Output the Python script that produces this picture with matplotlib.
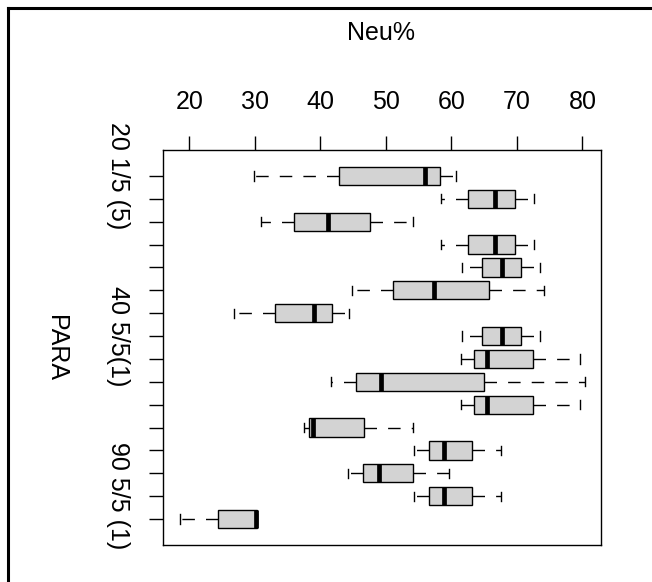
import matplotlib

matplotlib.use("Agg")
import matplotlib.pyplot as plt
import numpy as np
from matplotlib.lines import Line2D

plt.rcParams["font.family"] = ["Liberation Sans", "DejaVu Sans"]

# --- Values (16 groups, top to bottom) --------------------------------------
Q1 = [42.9, 62.5, 36.0, 62.5, 64.7, 51.1, 33.0, 64.7, 63.5, 45.5, 63.5, 38.3, 56.6, 46.5, 56.6, 24.3]
MEDIAN = [55.9, 66.6, 41.1, 66.6, 67.7, 57.3, 39.1, 67.7, 65.4, 49.2, 65.4, 38.9, 58.9, 48.9, 58.9, 30.2]
Q3 = [58.3, 69.7, 47.6, 69.7, 70.6, 65.8, 41.7, 70.6, 72.5, 64.9, 72.5, 46.6, 63.2, 54.2, 63.2, 30.3]
WHIS_LO = [29.8, 58.4, 30.9, 58.4, 61.6, 44.9, 26.8, 61.6, 61.4, 41.6, 61.4, 37.5, 54.3, 44.2, 54.3, 18.5]
WHIS_HI = [60.7, 72.6, 54.1, 72.6, 73.5, 74.1, 44.3, 73.5, 79.6, 80.35, 79.6, 54.2, 67.5, 59.6, 67.5, 30.3]
GROUP_LABELS = ["20 1/5 (5)", "", "", "", "", "", "", "40 5/5(1)",
                "", "", "", "", "", "", "90 5/5 (1)", ""]
X_TICKS = [20, 30, 40, 50, 60, 70, 80]
X_LABEL = "Neu%"
Y_LABEL = "PARA"

FILL = "#d3d3d3"
INK = "#000000"

fig = plt.figure(figsize=(6.52, 5.82), dpi=100)
W, H = 652.0, 582.0
ax = fig.add_axes([163.3 / W, 1 - 545 / H, (601 - 163.3) / W, (545 - 150) / H])

n = len(MEDIAN)
stats = [
    dict(med=m, q1=a, q3=b, whislo=lo, whishi=hi, fliers=[])
    for m, a, b, lo, hi in zip(MEDIAN, Q1, Q3, WHIS_LO, WHIS_HI)
]
pos = np.arange(1, n + 1)
ax.bxp(
    stats, positions=pos, widths=0.8, capwidths=0.4, orientation="horizontal",
    patch_artist=True, showfliers=False,
    boxprops=dict(facecolor=FILL, edgecolor=INK, linewidth=1.0),
    medianprops=dict(color=INK, linewidth=3.4, solid_capstyle="butt"),
    whiskerprops=dict(color=INK, linewidth=1.0, linestyle=(0, (9, 8))),
    capprops=dict(color=INK, linewidth=1.0),
)

# R-style 4% padding around the data range
lo, hi = min(WHIS_LO), max(WHIS_HI)
pad = 0.04 * (hi - lo)
ax.set_xlim(lo - pad, hi + pad)
ax.set_ylim(n + 0.5 + 0.04 * n, 0.5 - 0.04 * n)

ax.xaxis.tick_top()
ax.set_xticks(X_TICKS, [str(t) for t in X_TICKS], fontsize=18)
ax.set_yticks(pos, GROUP_LABELS, fontsize=18, rotation=-90, va="center")
ax.tick_params(axis="both", length=10, width=1.0, color=INK)
ax.tick_params(axis="x", pad=16)
ax.tick_params(axis="y", pad=14)
for side in ax.spines.values():
    side.set_linewidth(1.0)
    side.set_color(INK)

fig.text(381 / W, 1 - 33 / H, X_LABEL, fontsize=18, ha="center", va="center")
fig.text(56 / W, 1 - 348 / H, Y_LABEL, fontsize=18, ha="center", va="center",
         rotation=-90)

# frame along the top and left image edges
fig.add_artist(Line2D([8 / W, 1], [1 - 8 / H, 1 - 8 / H], color=INK, linewidth=2.2,
                      transform=fig.transFigure))
fig.add_artist(Line2D([8 / W, 8 / W], [0, 1 - 8 / H], color=INK, linewidth=2.2,
                      transform=fig.transFigure))

fig.savefig("out.png", dpi=100, facecolor="white")
